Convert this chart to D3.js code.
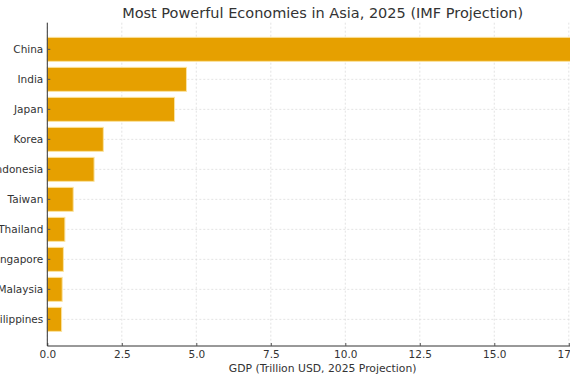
<!DOCTYPE html>
<html><head><meta charset="utf-8">
<script src="https://cdn.jsdelivr.net/npm/d3@7"></script>
<style>
html,body{margin:0;padding:0;background:#fff;overflow:hidden;}
svg{display:block;font-family:"DejaVu Sans",sans-serif;}
</style></head>
<body>
<svg id="c" width="570" height="381"></svg>
<script>
const countries = ["China","India","Japan","Korea","Indonesia","Taiwan","Thailand","Singapore","Malaysia","Philippines"];
const gdp = [17.6, 4.67, 4.27, 1.88, 1.57, 0.87, 0.59, 0.54, 0.50, 0.48];
const xTicks = [0, 2.5, 5.0, 7.5, 10.0, 12.5, 15.0, 17.5];
const titleText = "Most Powerful Economies in Asia, 2025 (IMF Projection)";
const xLabelText = "GDP (Trillion USD, 2025 Projection)";

(function () {
const svg = d3.select("#c");
const mLeft = 47.3, mTop = 22.7, mBottom = 346, mRight = 598;
const x = d3.scaleLinear().domain([0, d3.max(gdp) * 1.05]).range([mLeft, mRight]);
const y = d3.scaleBand().domain(countries).range([mTop, mBottom]).paddingInner(0.2).paddingOuter(0.488);

// grid
const g = svg.append("g");
g.selectAll("line.vg").data(xTicks).enter().append("line")
  .attr("x1", d => x(d)).attr("x2", d => x(d)).attr("y1", mTop).attr("y2", mBottom)
  .attr("stroke", "#dcdcdc").attr("stroke-width", 0.8).attr("stroke-dasharray", "2,2");
g.selectAll("line.hg").data(countries).enter().append("line")
  .attr("x1", mLeft).attr("x2", mRight)
  .attr("y1", d => y(d) + y.bandwidth() / 2).attr("y2", d => y(d) + y.bandwidth() / 2)
  .attr("stroke", "#dcdcdc").attr("stroke-width", 0.8).attr("stroke-dasharray", "2,2");

// bars
svg.append("g").selectAll("rect").data(countries).enter().append("rect")
  .attr("x", x(0)).attr("y", d => y(d))
  .attr("width", (d, i) => x(gdp[i]) - x(0)).attr("height", y.bandwidth())
  .attr("fill", "#E6A000").attr("stroke", "#FBE3A0").attr("stroke-width", 1);

// axes
const xAxis = d3.axisBottom(x).tickValues(xTicks).tickFormat(d3.format(".1f")).tickSize(-3).tickPadding(5);
const xa = svg.append("g").attr("transform", `translate(0,${mBottom})`).call(xAxis);
xa.select(".domain").attr("d", `M${mLeft},0H${mRight}`).attr("stroke", "#333").attr("stroke-width", 1);
xa.selectAll(".tick line").attr("stroke", "#555");
xa.selectAll("text").attr("font-size", 10.5).attr("fill", "#333").attr("font-family", "DejaVu Sans");

const yAxis = d3.axisLeft(y).tickSize(-3).tickPadding(4);
const ya = svg.append("g").attr("transform", `translate(${mLeft},0)`).call(yAxis);
ya.select(".domain").attr("d", `M0,${mTop}V${mBottom}`).attr("stroke", "#333").attr("stroke-width", 1);
ya.selectAll(".tick line").attr("stroke", "#555");
ya.selectAll("text").attr("font-size", 10.5).attr("fill", "#333").attr("font-family", "DejaVu Sans");

svg.append("text").attr("x", (mLeft + mRight) / 2).attr("y", 17.5).attr("text-anchor", "middle")
  .attr("font-size", 14.5).attr("fill", "#333").text(titleText);
svg.append("text").attr("x", (mLeft + mRight) / 2).attr("y", 372).attr("text-anchor", "middle")
  .attr("font-size", 10.8).attr("fill", "#333").text(xLabelText);
})();
</script>
</body></html>
